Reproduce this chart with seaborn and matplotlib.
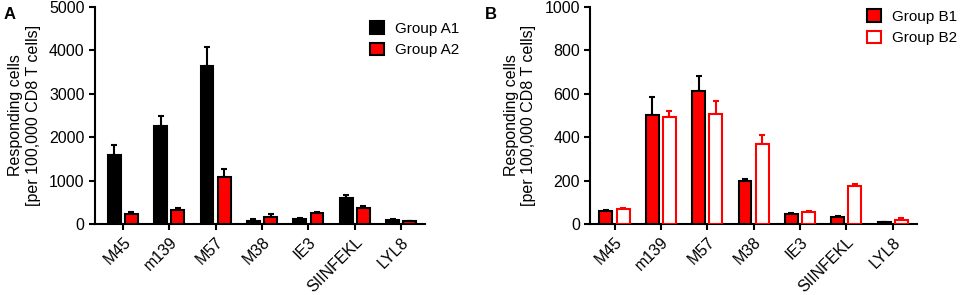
import numpy as np
import pandas as pd
import matplotlib
matplotlib.use("Agg")
import matplotlib.pyplot as plt
import seaborn as sns

# epitopes on the x axis
epitopes = ["M45", "m139", "M57", "M38", "IE3", "SIINFEKL", "LYL8"]

# panel A
a1_mean = [1600, 2250, 3640, 75, 110, 600, 85]
a1_err = [220, 230, 430, 30, 30, 70, 25]
a2_mean = [235, 330, 1085, 170, 240, 370, 60]
a2_err = [40, 30, 180, 55, 30, 45, 15]

# panel B
b1_mean = [60, 503, 615, 200, 45, 31, 8]
b1_err = [3, 83, 67, 8, 6, 4, 3]
b2_mean = [67, 495, 509, 369, 55, 177, 18]
b2_err = [8, 28, 60, 39, 5, 5, 11]

sns.set_style("ticks")
plt.rcParams["font.family"] = ["Liberation Sans", "DejaVu Sans"]
plt.rcParams["font.size"] = 11.5
plt.rcParams["text.color"] = "black"
plt.rcParams["axes.labelcolor"] = "black"
plt.rcParams["axes.edgecolor"] = "black"
plt.rcParams["xtick.color"] = "black"
plt.rcParams["ytick.color"] = "black"


def make_df(names, means):
    rows = []
    for name, vals in zip(names, means):
        for ep, v in zip(epitopes, vals):
            rows.append({"epitope": ep, "group": name, "value": v})
    return pd.DataFrame(rows)


def panel(ax, names, means, errs, faces, edges, ymax, ystep, xlim):
    df = make_df(names, means)
    sns.barplot(data=df, x="epitope", y="value", hue="group", order=epitopes,
                hue_order=names, palette=faces, saturation=1, errorbar=None,
                width=0.74, gap=0.25, linewidth=1.5, legend=False, ax=ax,
                zorder=3)
    for cont, err, ec in zip(ax.containers, errs, edges):
        xs, ys = [], []
        for bar in cont:
            bar.set_edgecolor(ec)
            xs.append(bar.get_x() + bar.get_width() / 2)
            ys.append(bar.get_height())
        ax.errorbar(xs, ys, yerr=[np.zeros(len(err)), err], fmt="none",
                    ecolor=ec, elinewidth=1.5, capsize=2.5, capthick=1.5,
                    zorder=2)
    ax.set_ylim(0, ymax)
    ax.set_yticks(np.arange(0, ymax + 1, ystep))
    ax.set_xlim(*xlim)
    ax.set_xlabel("")
    ax.set_ylabel("Responding cells\n[per 100,000 CD8 T cells]", labelpad=6,
                  fontsize=11.5)
    ax.set_xticks(range(len(epitopes)))
    ax.set_xticklabels(epitopes, rotation=45, ha="right", rotation_mode="anchor")
    sns.despine(ax=ax)
    for s in ["left", "bottom"]:
        ax.spines[s].set_linewidth(1.5)
    ax.tick_params(width=1.5, length=4, labelsize=11.5)


fig = plt.figure(figsize=(9.6, 2.95), dpi=100)
axA = fig.add_axes([0.099, 0.241, 0.344, 0.735])
axB = fig.add_axes([0.615, 0.241, 0.340, 0.735])

panel(axA, ["Group A1", "Group A2"], [a1_mean, a2_mean], [a1_err, a2_err],
      ["black", "red"], ["black", "black"], 5000, 1000, (-0.6, 6.52))
panel(axB, ["Group B1", "Group B2"], [b1_mean, b2_mean], [b1_err, b2_err],
      ["red", "white"], ["black", "red"], 1000, 200, (-0.52, 6.52))

axA.legend(axA.containers, ["Group A1", "Group A2"], loc="upper left",
           bbox_to_anchor=(0.81, 0.97), frameon=False, borderpad=0,
           handlelength=0.9, handleheight=0.9, handletextpad=0.7,
           labelspacing=0.45, fontsize=11)
axB.legend(axB.containers, ["Group B1", "Group B2"], loc="upper left",
           bbox_to_anchor=(0.825, 1.025), frameon=False, borderpad=0,
           handlelength=0.9, handleheight=0.9, handletextpad=0.7,
           labelspacing=0.45, fontsize=11)

fig.text(0.004, 0.935, "A", fontsize=12, fontweight="bold")
fig.text(0.505, 0.935, "B", fontsize=12, fontweight="bold")

fig.savefig("out.png", dpi=100)
